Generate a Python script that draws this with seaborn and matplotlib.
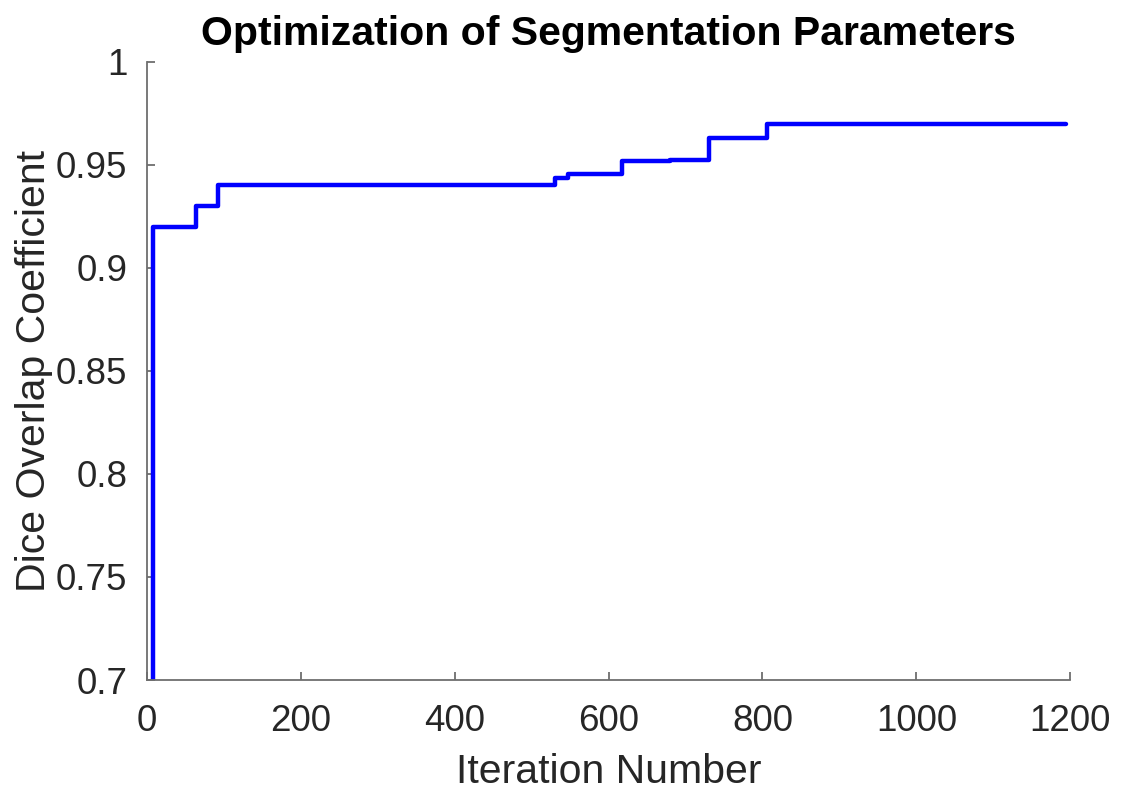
import matplotlib
matplotlib.use("Agg")
import matplotlib.pyplot as plt
import seaborn as sns
import pandas as pd

# Best-so-far Dice score at the iterations where it changed
iterations = [1, 8, 64, 92, 530, 547, 617, 680, 730, 806, 1195]
dice_scores = [0.50, 0.92, 0.93, 0.94, 0.9435, 0.9455, 0.952, 0.9525, 0.963, 0.970, 0.970]

x_ticks = [0, 200, 400, 600, 800, 1000, 1200]
y_ticks = [0.7, 0.75, 0.8, 0.85, 0.9, 0.95, 1.0]
y_tick_labels = ["0.7", "0.75", "0.8", "0.85", "0.9", "0.95", "1"]

df = pd.DataFrame({"Iteration": iterations, "Dice": dice_scores})

sns.set_style("ticks")
plt.rcParams["font.family"] = ["Liberation Sans", "DejaVu Sans"]
text_color = "#262626"
axis_color = "#6e6e6e"

fig = plt.figure(figsize=(11.29, 7.92), dpi=100)
ax = fig.add_axes([0.130, 0.1414, 0.818, 0.7806])

sns.lineplot(data=df, x="Iteration", y="Dice", color="#0000ff", linewidth=3.2,
             drawstyle="steps-post", ax=ax)

ax.set_xlim(0, 1200)
ax.set_ylim(0.7, 1.0)
ax.set_xticks(x_ticks)
ax.set_yticks(y_ticks)
ax.set_yticklabels(y_tick_labels)

# MATLAB-like look: box off, inward ticks, grey axis lines
sns.despine(ax=ax)
for side in ["left", "bottom"]:
    ax.spines[side].set_color(axis_color)
    ax.spines[side].set_linewidth(1.3)
ax.tick_params(direction="in", length=6, width=1.3, color=axis_color,
               labelsize=26.5, labelcolor=text_color)
ax.tick_params(axis="x", pad=17)
ax.tick_params(axis="y", pad=14)

ax.set_xlabel("Iteration Number", fontsize=29.5, color=text_color, labelpad=10)
ax.set_ylabel("Dice Overlap Coefficient", fontsize=29.5, color=text_color, labelpad=2)
ax.set_title("Optimization of Segmentation Parameters", fontsize=29.5,
             fontweight="bold", color="black", pad=12)

fig.savefig("out.png", dpi=100, facecolor="white")
